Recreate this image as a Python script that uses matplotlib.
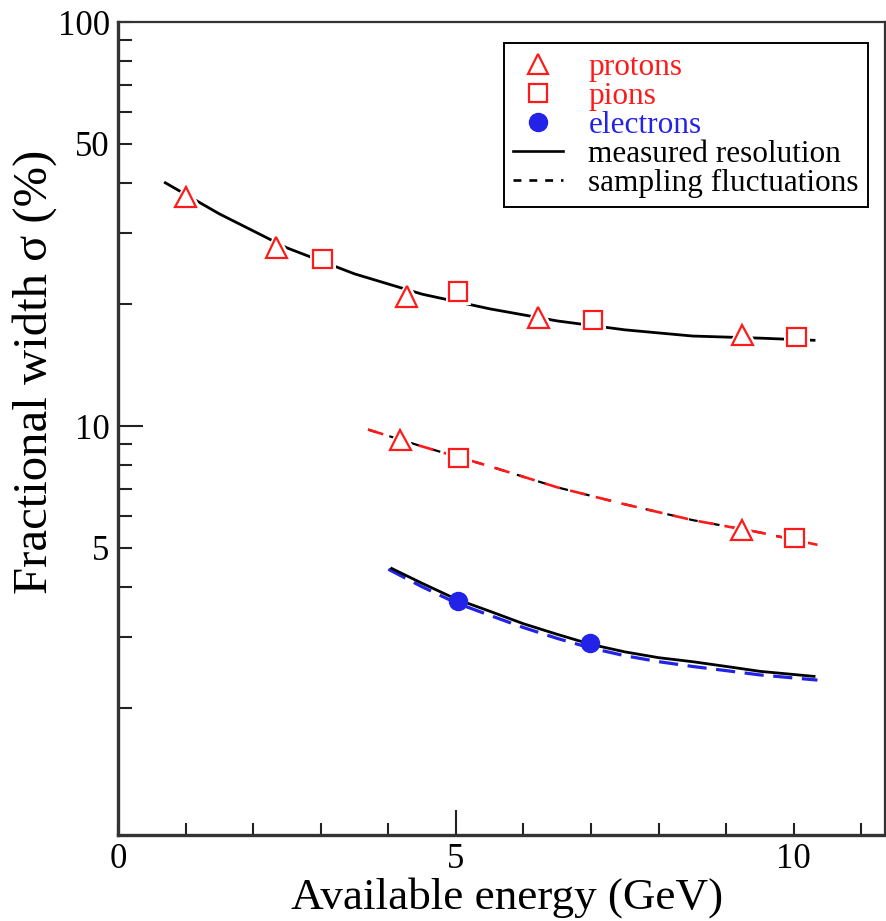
import matplotlib.pyplot as plt
import matplotlib.patheffects as pe
from matplotlib.lines import Line2D

plt.rcParams['font.family'] = ['Liberation Serif', 'DejaVu Serif']

# measured points (energy in GeV, fractional width in %)
proton_e = [1.0, 2.34, 4.27, 6.22, 9.24]
proton_res = [36.9, 27.6, 20.9, 18.6, 16.8]
pion_e = [3.03, 5.03, 7.03, 10.04]
pion_res = [25.9, 21.5, 18.3, 16.6]
proton_samp_e = [4.18, 9.23]
proton_samp = [9.23, 5.53]
pion_samp_e = [5.04, 10.01]
pion_samp = [8.33, 5.28]
electron_e = [5.03, 6.99]
electron_res = [3.69, 2.90]

# curves
hadron_res_e = [0.7, 1.5, 2.5, 3.5, 4.5, 5.5, 6.5, 7.5, 8.5, 9.5, 10.3]
hadron_res = [40.0, 33.5, 27.6, 23.8, 21.2, 19.5, 18.2, 17.3, 16.7, 16.5, 16.3]
hadron_samp_e = [3.7, 4.5, 5.5, 6.5, 7.5, 8.5, 9.5, 10.35]
hadron_samp = [9.8, 8.9, 7.95, 7.05, 6.4, 5.85, 5.45, 5.08]
elec_res_e = [4.05, 4.5, 5.0, 5.5, 6.0, 6.5, 7.0, 7.5, 8.0, 8.5, 9.0, 9.5, 10.3]
elec_res = [4.44, 4.08, 3.73, 3.48, 3.24, 3.05, 2.88, 2.76, 2.67, 2.61, 2.54, 2.47, 2.40]
elec_samp_e = [4.0, 4.5, 5.0, 5.5, 6.0, 6.5, 7.0, 7.5, 8.0, 8.5, 9.0, 9.5, 10.35]
elec_samp = [4.42, 4.0, 3.65, 3.40, 3.17, 2.98, 2.82, 2.70, 2.61, 2.54, 2.48, 2.42, 2.35]

red = '#ff1a1a'
blue = '#2323e8'

fig = plt.figure(figsize=(8.86, 9.21), dpi=100)
ax = fig.add_axes([0.1332, 0.0934, 0.8657, 0.8827])
ax.set_yscale('log')

# curves
ax.plot(hadron_res_e, hadron_res, color='black', lw=2.0, zorder=2)
ax.plot(hadron_samp_e, hadron_samp, color='black', lw=1.6, dashes=(4, 6), zorder=2)
ax.plot(hadron_samp_e, hadron_samp, color=red, lw=1.9, dashes=(6, 4), zorder=3)
ax.plot(elec_samp_e, elec_samp, color=blue, lw=2.3, dashes=(6, 3), zorder=2)
ax.plot(elec_res_e, elec_res, color='black', lw=2.0, zorder=3)

# markers, with a white halo so the line breaks around them
halo = [pe.Stroke(linewidth=5, foreground='white'), pe.Normal()]
mk = dict(ls='none', mfc='white', mew=1.6, zorder=5, path_effects=halo)
ax.plot(proton_e, proton_res, marker='^', ms=15, mec=red, **mk)
ax.plot(pion_e, pion_res, marker='s', ms=13.5, mec=red, **mk)
ax.plot(proton_samp_e, proton_samp, marker='^', ms=15, mec=red, **mk)
ax.plot(pion_samp_e, pion_samp, marker='s', ms=13.5, mec=red, **mk)
ax.plot(electron_e, electron_res, marker='o', ms=13, ls='none', color=blue, zorder=5)

ax.set_xlim(0, 11.35)
ax.set_ylim(0.972, 100)

# ticks
ax.set_xticks([0, 5, 10])
ax.set_xticklabels(['0', '5', '10'])
ax.set_xticks([1, 2, 3, 4, 6, 7, 8, 9, 11], minor=True)
ax.set_yticks([5, 10, 50, 100])
ax.set_yticklabels(['5', '10', '50', '100'])
ax.set_yticks([2, 3, 4, 6, 7, 8, 9, 20, 30, 40, 60, 70, 80, 90], minor=True)
ax.yaxis.set_minor_formatter(plt.NullFormatter())
ax.tick_params(which='both', direction='in', top=False, right=False,
               width=1.5, color='#222222', labelsize=25)
ax.tick_params(axis='y', which='both', length=10, pad=6)
ax.tick_params(axis='x', which='both', length=9, pad=6)
ax.xaxis.get_major_ticks()[1].tick1line.set_markersize(18)
ax.yaxis.get_major_ticks()[1].tick1line.set_markersize(18)

for side in ['left', 'bottom']:
    ax.spines[side].set_linewidth(2.4)
    ax.spines[side].set_color('#333333')
for side in ['top', 'right']:
    ax.spines[side].set_linewidth(1.6)
    ax.spines[side].set_color('#333333')

ax.set_xlabel('Available energy (GeV)', fontsize=32.5)
ax.set_ylabel('Fractional width σ (%)', fontsize=35)
ax.xaxis.set_label_coords(0.507, -0.052)
ax.yaxis.set_label_coords(-0.080, 0.57)

# legend
handles = [
    Line2D([], [], ls='none', marker='^', ms=15, mfc='white', mec=red, mew=1.6),
    Line2D([], [], ls='none', marker='s', ms=13.5, mfc='white', mec=red, mew=1.6),
    Line2D([], [], ls='none', marker='o', ms=13, color=blue),
    Line2D([], [], color='black', lw=1.9),
    Line2D([], [], color='black', lw=1.9, dashes=(3, 3)),
]
labels = ['protons', 'pions', 'electrons', 'measured resolution', 'sampling fluctuations']
leg = ax.legend(handles, labels, loc='upper right', bbox_to_anchor=(0.978, 0.974),
                fontsize=22.5, frameon=True, fancybox=False, edgecolor='black',
                framealpha=1, handlelength=1.6, handletextpad=0.8,
                labelspacing=0.0, borderpad=0.3, borderaxespad=0)
leg.get_frame().set_linewidth(1.4)
for txt, c in zip(leg.get_texts(), [red, red, blue, 'black', 'black']):
    txt.set_color(c)

fig.savefig('out.png', dpi=100)
